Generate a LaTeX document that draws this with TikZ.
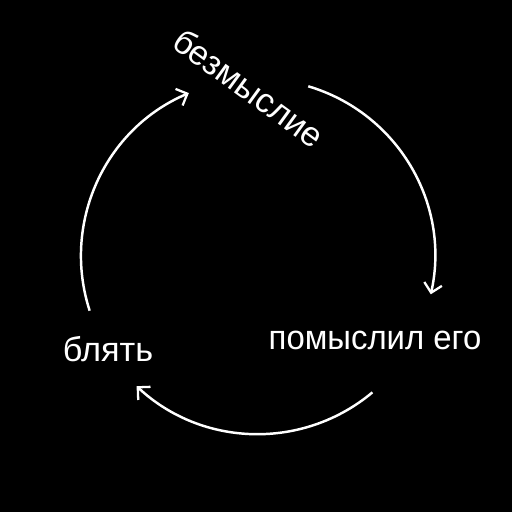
\documentclass[tikz,border=0pt]{standalone}
\usepackage{fontspec}
\setmainfont{Liberation Sans}
\usetikzlibrary{arrows.meta,positioning,calc}

\begin{document}
\begin{tikzpicture}[x=0.02cm,y=0.02cm,
	label/.style={text=white,font=\fontsize{19.5}{22}\selectfont,inner sep=0pt},
	cycle/.style={draw=white,line width=1.4pt,-{Straight Barb[length=1.8mm,width=3.6mm,line width=1.3pt]}}]
	\fill[black] (0,0) rectangle (512,512);
	\coordinate (O) at (258,256);
	\node[label,rotate=-36] (bez) at (249,424) {безмыслие};
	\node[label,xscale=0.96] (pom) at (375,172) {помыслил его};
	\node[label] (bl) at (108,163) {блять};
	% arcs between the labels
	\draw[cycle] ($(O)+(73.5:177)$) arc[start angle=73.5,end angle=-12.5,radius=177];
	\draw[cycle] ($(O)+(-50:178)$) arc[start angle=-50,end angle=-133,radius=178];
	\draw[cycle] ($(O)+(198:177)$) arc[start angle=198,end angle=113,radius=177];
\end{tikzpicture}
\end{document}
